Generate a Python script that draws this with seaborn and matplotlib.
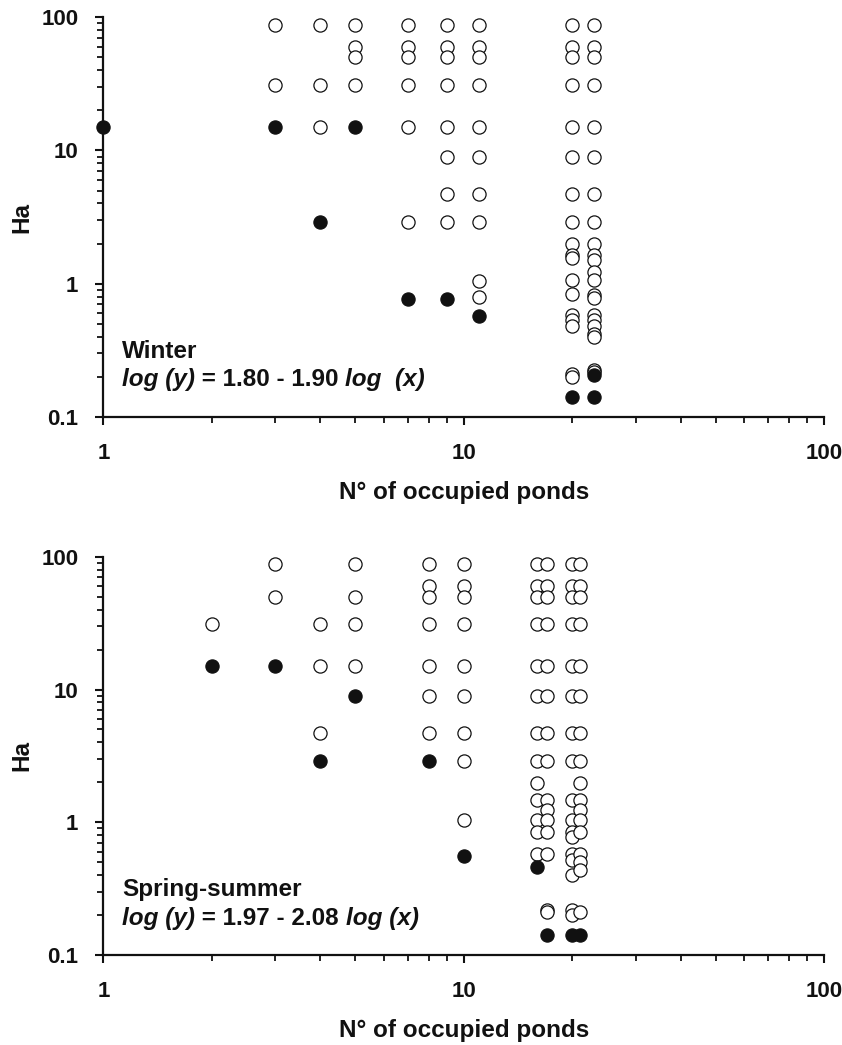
import numpy as np
import pandas as pd
import matplotlib
matplotlib.use('Agg')
import matplotlib.pyplot as plt
import seaborn as sns
from matplotlib.ticker import LogLocator, NullFormatter

sns.set_style('ticks')
plt.rcParams['font.family'] = ['Liberation Sans', 'DejaVu Sans']
plt.rcParams['font.weight'] = 'bold'

# Winter: open circles, one list of Ha values per column of ponds
winter_open_n = [3, 4, 5, 7, 9, 11, 20, 23]
winter_open_ha = [
    [88, 31],
    [88, 31, 15],
    [88, 60, 50, 31],
    [88, 60, 50, 31, 15, 2.9],
    [88, 60, 50, 31, 15, 9, 4.7, 2.9],
    [88, 60, 50, 31, 15, 9, 4.7, 2.9, 1.05, 0.8],
    [88, 60, 50, 31, 15, 9, 4.7, 2.9, 1.98, 1.64, 1.55, 1.06, 0.84, 0.58,
     0.53, 0.48, 0.21, 0.2],
    [88, 60, 50, 31, 15, 9, 4.7, 2.9, 1.98, 1.64, 1.5, 1.23, 1.06, 0.82,
     0.78, 0.58, 0.53, 0.48, 0.42, 0.4, 0.224, 0.215],
]
winter_filled_n = [1, 3, 4, 5, 7, 9, 11, 20, 23, 23]
winter_filled_ha = [15, 15, 2.9, 15, 0.77, 0.77, 0.57, 0.141, 0.205, 0.141]

# Spring-summer
spring_open_n = [2, 3, 4, 5, 8, 10, 16, 17, 20, 21]
spring_open_ha = [
    [31],
    [88, 50],
    [31, 15, 4.7],
    [88, 50, 31, 15],
    [88, 60, 50, 31, 15, 9, 4.7],
    [88, 60, 50, 31, 15, 9, 4.7, 2.9, 1.04],
    [88, 60, 50, 31, 15, 9, 4.7, 2.9, 1.96, 1.47, 1.04, 0.85, 0.58],
    [88, 60, 50, 31, 15, 9, 4.7, 2.9, 1.47, 1.24, 1.04, 0.85, 0.58, 0.22, 0.21],
    [88, 60, 50, 31, 15, 9, 4.7, 2.9, 1.47, 1.04, 0.85, 0.78, 0.58, 0.52,
     0.4, 0.22, 0.2],
    [88, 60, 50, 31, 15, 9, 4.7, 2.9, 1.96, 1.47, 1.24, 1.04, 0.85, 0.58,
     0.5, 0.44, 0.21],
]
spring_filled_n = [2, 3, 4, 5, 8, 10, 16, 17, 20, 21]
spring_filled_ha = [15, 15, 2.9, 9, 2.9, 0.56, 0.46, 0.141, 0.141, 0.141]

panels = [
    ('Winter', 'log (y)', ' = 1.80 - 1.90 ', 'log  (x)',
     winter_open_n, winter_open_ha, winter_filled_n, winter_filled_ha),
    ('Spring-summer', 'log (y)', ' = 1.97 - 2.08 ', 'log (x)',
     spring_open_n, spring_open_ha, spring_filled_n, spring_filled_ha),
]

INK = '#111111'
FS = 17.5


def long_form(cols, vals):
    rows = [(n, h) for n, hs in zip(cols, vals) for h in hs]
    return pd.DataFrame(rows, columns=['ponds', 'ha'])


fig = plt.figure(figsize=(8.42, 10.45), dpi=100)
axes = [fig.add_axes([0.1229, 0.6012, 0.8557, 0.3822]),
        fig.add_axes([0.1229, 0.0861, 0.8557, 0.3811])]

for ax, (season, eq1, eq2, eq3, on, oh, fn, fh) in zip(axes, panels):
    df_open = long_form(on, oh)
    df_fill = pd.DataFrame({'ponds': fn, 'ha': fh})
    sns.scatterplot(data=df_open, x='ponds', y='ha', ax=ax, s=90,
                    color='white', edgecolor=INK, linewidth=0.9,
                    clip_on=False, zorder=3)
    sns.scatterplot(data=df_fill, x='ponds', y='ha', ax=ax, s=90,
                    color=INK, edgecolor=INK, linewidth=0.9,
                    clip_on=False, zorder=4)
    ax.set_xscale('log')
    ax.set_yscale('log')
    ax.set_xlim(1, 100)
    ax.set_ylim(0.1, 100)
    ax.set_xticks([1, 10, 100])
    ax.set_xticklabels(['1', '10', '100'])
    ax.set_yticks([0.1, 1, 10, 100])
    ax.set_yticklabels(['0.1', '1', '10', '100'])
    ax.xaxis.set_minor_locator(LogLocator(base=10, subs=np.arange(2, 10)))
    ax.yaxis.set_minor_locator(LogLocator(base=10, subs=np.arange(2, 10)))
    ax.xaxis.set_minor_formatter(NullFormatter())
    ax.yaxis.set_minor_formatter(NullFormatter())
    sns.despine(ax=ax)
    for sp in ['left', 'bottom']:
        ax.spines[sp].set_linewidth(1.6)
        ax.spines[sp].set_color(INK)
    ax.tick_params(which='major', length=6, width=1.5, color=INK,
                   labelsize=16, labelcolor=INK)
    ax.tick_params(which='minor', length=4, width=1.3, color=INK)
    ax.tick_params(axis='x', which='major', pad=13)
    ax.tick_params(axis='y', which='major', pad=12)
    ax.set_xlabel('N\u00b0 of occupied ponds', fontsize=FS, fontweight='bold',
                  labelpad=12, color=INK)
    ax.set_ylabel('Ha', fontsize=FS, fontweight='bold', labelpad=6, color=INK)

    ax.text(0.026, 0.148, season, transform=ax.transAxes, fontsize=FS,
            fontweight='bold', va='baseline', ha='left', color=INK)
    t1 = ax.text(0.026, 0.076, eq1, transform=ax.transAxes, fontsize=FS,
                 fontweight='bold', style='italic', va='baseline', ha='left',
                 color=INK)
    t2 = ax.annotate(eq2, xy=(1, 0), xycoords=t1, fontsize=FS,
                     fontweight='bold', va='bottom', ha='left', color=INK)
    ax.annotate(eq3, xy=(1, 0), xycoords=t2, fontsize=FS, fontweight='bold',
                style='italic', va='bottom', ha='left', color=INK)

plt.savefig('out.png', dpi=100)
plt.close()
